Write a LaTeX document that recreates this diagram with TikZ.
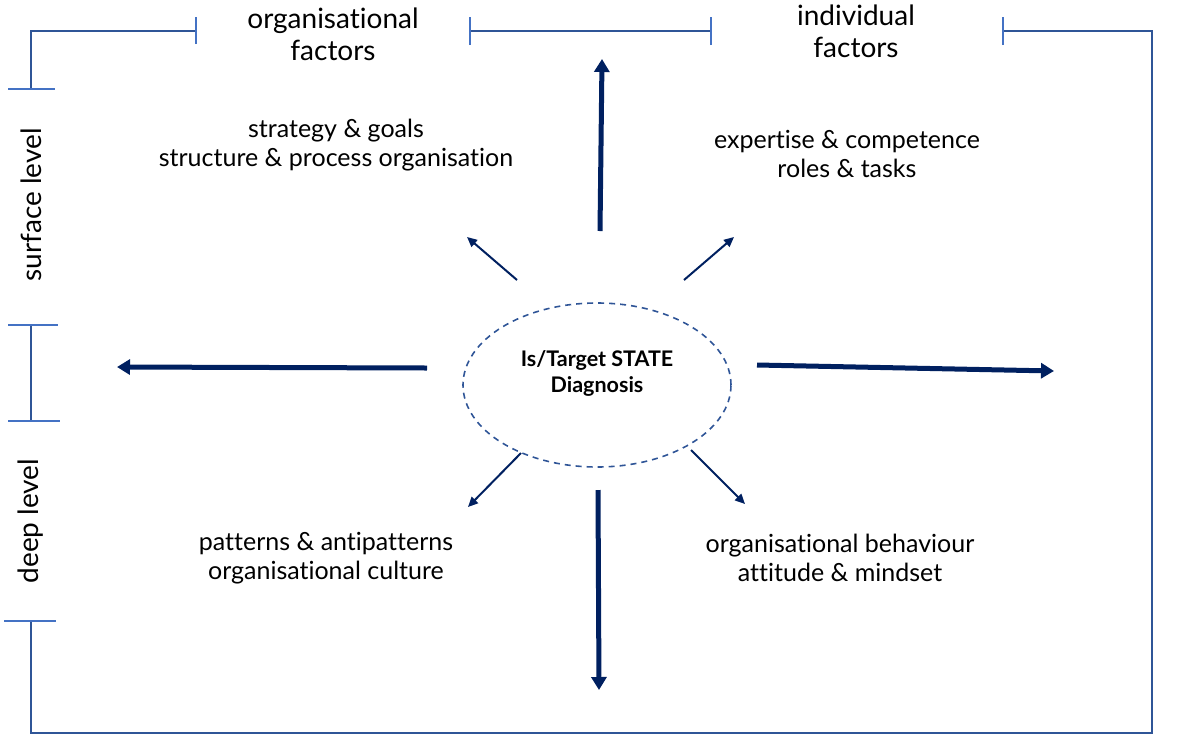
\documentclass[tikz,border=0pt]{standalone}
\usepackage{fontspec}
\setmainfont{Lato}[Ligatures=NoCommon]
\usetikzlibrary{arrows.meta}
\definecolor{framecol}{HTML}{2F5597}
\definecolor{tickcol}{HTML}{4472C4}
\definecolor{arrowcol}{HTML}{002060}
\tikzset{
  factortext/.style={align=center,font=\fontsize{25}{29}\selectfont},
  headtext/.style={align=center,font=\fontsize{28}{32}\selectfont},
  leveltext/.style={headtext,rotate=90},
  stateellipse/.style={ellipse,draw=framecol,dashed,line width=1.6pt,
    dash pattern=on 6pt off 5pt,minimum width=268pt,minimum height=164pt},
  statetext/.style={align=center,font=\bfseries\fontsize{21.5}{26}\selectfont},
  frameline/.style={draw=framecol,line width=2pt},
  tickline/.style={draw=tickcol,line width=1.1pt},
  bigarrow/.style={draw=arrowcol,line width=5pt,-{Triangle[length=13pt,width=15pt]}},
  smallarrow/.style={draw=arrowcol,line width=2pt,-{Triangle[length=10pt,width=9pt]}}
}
\usetikzlibrary{shapes.geometric}
\begin{document}
\begin{tikzpicture}[x=1pt,y=-1pt]
  \useasboundingbox (0,0) rectangle (1180,753);
  \draw
    (333,34) node[headtext] (orgf){organisational\\factors}
    (856,31) node[headtext] (indf){individual\\factors}
    (336,145) node[factortext] (strat){strategy \& goals\\structure \& process organisation}
    (847,154) node[factortext] (expert){expertise \& competence\\roles \& tasks}
    (326,558) node[factortext] (patt){patterns \& antipatterns\\organisational culture}
    (840,558) node[factortext] (behav){organisational behaviour\\attitude \& mindset}
    (31,205) node[leveltext] (surf){surface level}
    (31,521) node[leveltext] (deep){deep level}
    (597,385) node[stateellipse] (diag){}
    (597,373) node[statetext] (diagtext){Is/Target STATE\\Diagnosis};
  % frame and brackets
  \coordinate (tl) at (31,31);
  \coordinate (bl) at (31,733);
  \coordinate (br) at (1152,733);
  \coordinate (tr) at (1152,31);
  \coordinate (f1) at (196,31);
  \coordinate (f2) at (470,31);
  \coordinate (f3) at (711,31);
  \coordinate (f4) at (1003,31);
  \coordinate (l1) at (31,89);
  \coordinate (l2) at (31,325);
  \coordinate (l3) at (31,421);
  \coordinate (l4) at (31,621);
  \begin{scope}[frameline]
    \draw (f1) -- (tl) -- (l1);
    \draw (l2) -- (l3);
    \draw (l4) -- (bl) -- (br) -- (tr) -- (f4);
    \draw (f2) -- (f3);
  \end{scope}
  \begin{scope}[tickline]
    \draw ([yshift=-13pt]f1) -- ([yshift=14pt]f1);
    \draw ([yshift=-14pt]f2) -- ([yshift=14pt]f2);
    \draw ([yshift=-14pt]f3) -- ([yshift=14pt]f3);
    \draw ([yshift=-14pt]f4) -- ([yshift=14pt]f4);
    \draw ([xshift=-23pt]l1) -- ([xshift=24pt]l1);
    \draw ([xshift=-23pt]l2) -- ([xshift=27pt]l2);
    \draw ([xshift=-23pt]l3) -- ([xshift=29pt]l3);
    \draw ([xshift=-27pt]l4) -- ([xshift=25pt]l4);
  \end{scope}
  % arrows
  \coordinate (upS) at (600,231);
  \coordinate (upE) at (602,59);
  \coordinate (dnS) at (598,490);
  \coordinate (dnE) at (599,690);
  \coordinate (lfS) at (427,368);
  \coordinate (lfE) at (117,367);
  \coordinate (rtS) at (757,365);
  \coordinate (rtE) at (1054,371);
  \coordinate (ulS) at (517,280);
  \coordinate (ulE) at (467,237);
  \coordinate (urS) at (684,280);
  \coordinate (urE) at (734,237);
  \coordinate (dlS) at (521,453);
  \coordinate (dlE) at (468,507);
  \coordinate (drS) at (691,450);
  \coordinate (drE) at (745,504);
  \draw[bigarrow] (upS) -- (upE);
  \draw[bigarrow] (dnS) -- (dnE);
  \draw[bigarrow] (lfS) -- (lfE);
  \draw[bigarrow] (rtS) -- (rtE);
  \draw[smallarrow] (ulS) -- (ulE);
  \draw[smallarrow] (urS) -- (urE);
  \draw[smallarrow] (dlS) -- (dlE);
  \draw[smallarrow] (drS) -- (drE);
\end{tikzpicture}
\end{document}
